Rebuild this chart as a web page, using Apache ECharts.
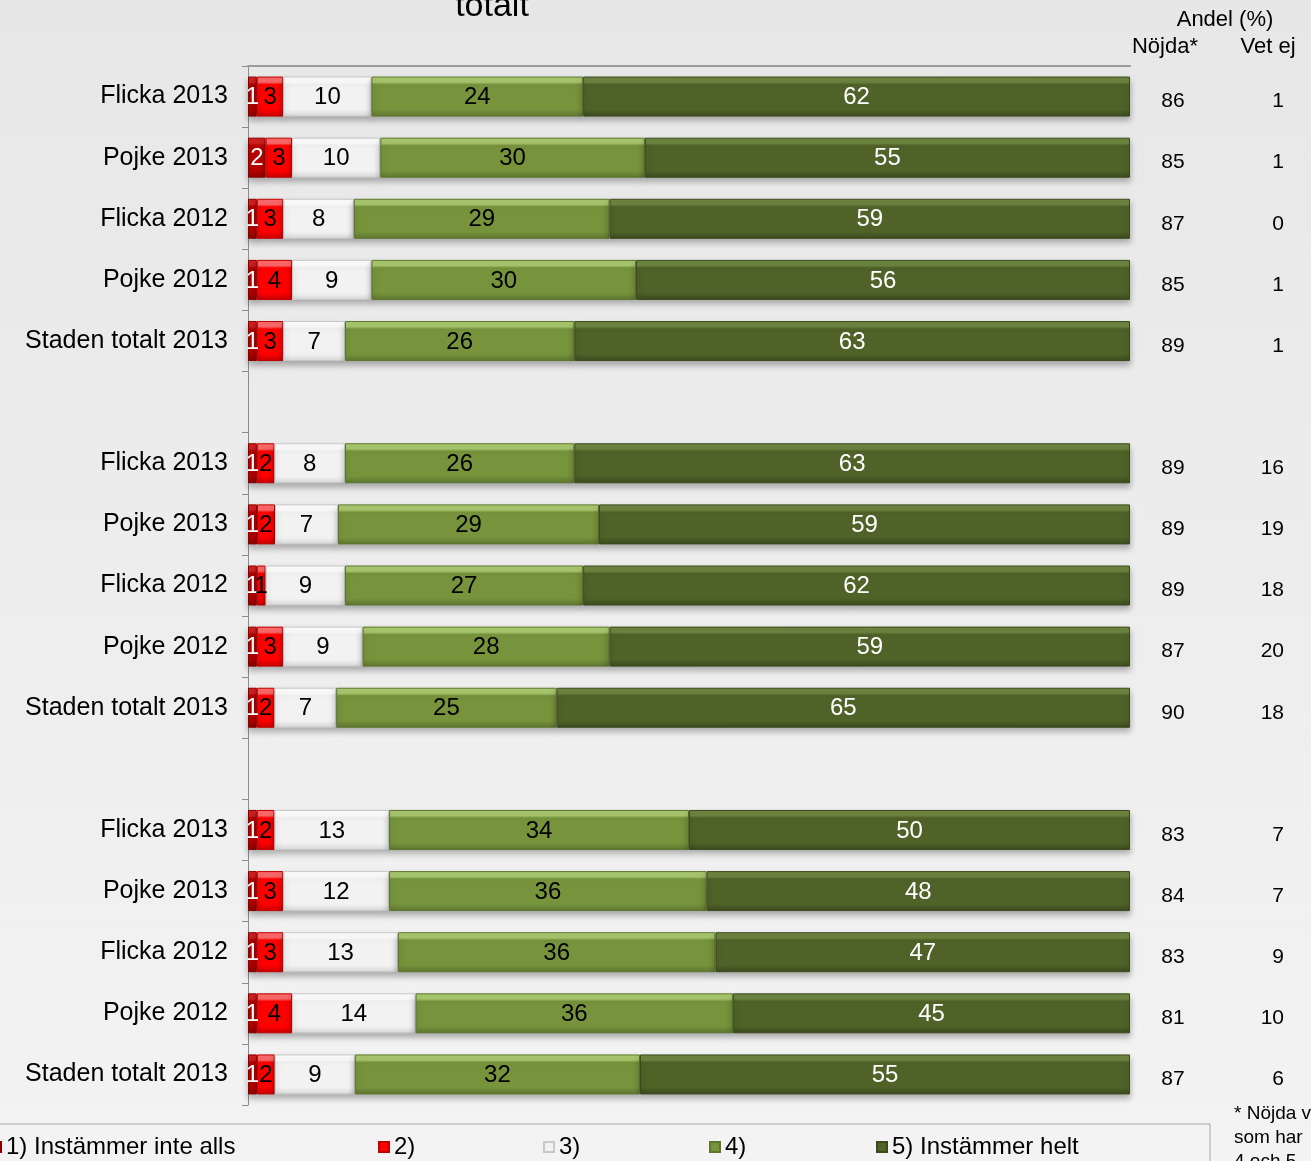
<!DOCTYPE html>
<html><head><meta charset="utf-8">
<script src="https://cdn.jsdelivr.net/npm/echarts@6/dist/echarts.min.js"></script>
<style>html,body{margin:0;padding:0;}#c{width:1311px;height:1161px;}</style>
</head><body><div id="c"></div>
<script>
var categories = ['Flicka 2013','Pojke 2013','Flicka 2012','Pojke 2012','Staden totalt 2013','',
  'Flicka 2013','Pojke 2013','Flicka 2012','Pojke 2012','Staden totalt 2013','',
  'Flicka 2013','Pojke 2013','Flicka 2012','Pojke 2012','Staden totalt 2013'];
var seriesNames = ['1) Instämmer inte alls','2)','3)','4)','5) Instämmer helt'];
var s1 = [1,2,1,1,1,null, 1,1,1,1,1,null, 1,1,1,1,1];
var s2 = [3,3,3,4,3,null, 2,2,1,3,2,null, 2,3,3,4,2];
var s3 = [10,10,8,9,7,null, 8,7,9,9,7,null, 13,12,13,14,9];
var s4 = [24,30,29,30,26,null, 26,29,27,28,25,null, 34,36,36,36,32];
var s5 = [62,55,59,56,63,null, 63,59,62,59,65,null, 50,48,47,45,55];
var nojda = ['86','85','87','85','89','', '89','89','89','87','90','', '83','84','83','81','87'];
var vetEj = ['1','1','0','1','1','', '16','19','18','20','18','', '7','7','9','10','6'];

var FONT = "'Liberation Sans', Arial, sans-serif";
function grad(top, mid, bot){
  return new echarts.graphic.LinearGradient(0,0,0,1,[
    {offset:0,color:top},{offset:0.14,color:top},{offset:0.2,color:mid},
    {offset:0.82,color:mid},{offset:1,color:bot}]);
}
var styles = [
  {c: grad('#d42020','#b80000','#8a0000'), b:'#8a0000', t:'#ffffff'},
  {c: grad('#ff6a6a','#ff0000','#c80000'), b:'#c00000', t:'#000000'},
  {c: grad('#ffffff','#f2f2f2','#d8d8d8'), b:'#c8c8c8', t:'#000000'},
  {c: grad('#a9c96e','#77933c','#5e7630'), b:'#5e7630', t:'#000000'},
  {c: grad('#6e8540','#4f6228','#3b4a1e'), b:'#3b4a1e', t:'#ffffff'}
];
var dataSets = [s1,s2,s3,s4,s5];
// 100% stacked: each row is scaled to its own total
var totals = categories.map(function(c,j){
  var t = 0; dataSets.forEach(function(d){ if(d[j]!=null) t += d[j]; }); return t;
});

var series = dataSets.map(function(d,i){
  return {
    name: seriesNames[i], type:'bar', stack:'total', barWidth:40,
    xAxisIndex:0, yAxisIndex:0,
    data: d.map(function(v,j){ return v==null ? null : v/totals[j]*100; }),
    itemStyle:{color:styles[i].c, borderColor:styles[i].b, borderWidth:1,
      shadowColor:'rgba(0,0,0,0.28)', shadowBlur:6, shadowOffsetY:4},
    label:{show:true, position:'inside', color:styles[i].t, fontSize:24, fontFamily:FONT, offset:[0,1],
      formatter:function(p){ var v = dataSets[p.seriesIndex][p.dataIndex]; return v==null?'':String(v);}},
    emphasis:{disabled:true}
  };
});

var legendLeft = [-10, 378, 543, 709, 876];
var legends = seriesNames.map(function(n,i){
  return {data:[n], left:legendLeft[i], top:1135, padding:0, icon:'rect', itemWidth:10, itemHeight:10, itemGap:4,
    textStyle:{fontSize:24, fontFamily:FONT, color:'#000'}, selectedMode:false};
});

var chart = echarts.init(document.getElementById('c'), null, {renderer:'canvas'});
chart.setOption({
  backgroundColor: new echarts.graphic.LinearGradient(0,0,0,1,[{offset:0,color:'#e7e7e7'},{offset:1,color:'#f3f3f3'}]),
  animation:false,
  legend: legends,
  grid:[{left:248, right:181, top:66, height:1039},
        {left:248, right:181, top:71, height:1039}],
  xAxis:[{type:'value', min:0, max:100, position:'top', gridIndex:0,
    axisLine:{show:true, lineStyle:{color:'#9a9a9a', width:2}},
    axisTick:{show:false}, axisLabel:{show:false}, splitLine:{show:false}},
    {type:'value', min:0, max:100, gridIndex:1, show:false}],
  yAxis:[
    {type:'category', data:categories, inverse:true, gridIndex:0,
      axisLine:{show:true, lineStyle:{color:'#8c8c8c'}},
      axisTick:{show:true, length:6, lineStyle:{color:'#8c8c8c'}},
      axisLabel:{margin:20, fontSize:25, fontFamily:FONT, color:'#000'}},
    {type:'category', data:nojda, inverse:true, position:'right', gridIndex:1,
      axisLine:{show:false}, axisTick:{show:false}, splitLine:{show:false},
      axisLabel:{margin:43, align:'center', fontSize:21, fontFamily:FONT, color:'#000'}},
    {type:'category', data:vetEj, inverse:true, position:'right', gridIndex:1,
      axisLine:{show:false}, axisTick:{show:false}, splitLine:{show:false},
      axisLabel:{margin:154, align:'right', fontSize:21, fontFamily:FONT, color:'#000'}}
  ],
  series: series,
  graphic:[
    {type:'text', x:492, y:7, style:{text:'totalt', fontSize:34, fontFamily:FONT, fill:'#000', align:'center', verticalAlign:'middle'}},
    {type:'text', x:1225, y:20, style:{text:'Andel (%)', fontSize:22, fontFamily:FONT, fill:'#000', align:'center', verticalAlign:'middle'}},
    {type:'text', x:1165, y:47, style:{text:'Nöjda*', fontSize:22, fontFamily:FONT, fill:'#000', align:'center', verticalAlign:'middle'}},
    {type:'text', x:1268, y:47, style:{text:'Vet ej', fontSize:22, fontFamily:FONT, fill:'#000', align:'center', verticalAlign:'middle'}},
    {type:'rect', shape:{x:-5, y:1124, width:1215, height:60}, style:{fill:'none', stroke:'#a6a6a6', lineWidth:1}},
    {type:'text', x:1234, y:1114, style:{text:'* Nöjda visar andel', fontSize:19, fontFamily:FONT, fill:'#000', verticalAlign:'middle'}},
    {type:'text', x:1234, y:1138, style:{text:'som har', fontSize:19, fontFamily:FONT, fill:'#000', verticalAlign:'middle'}},
    {type:'text', x:1234, y:1162, style:{text:'4 och 5', fontSize:19, fontFamily:FONT, fill:'#000', verticalAlign:'middle'}}
  ]
});
</script></body></html>
